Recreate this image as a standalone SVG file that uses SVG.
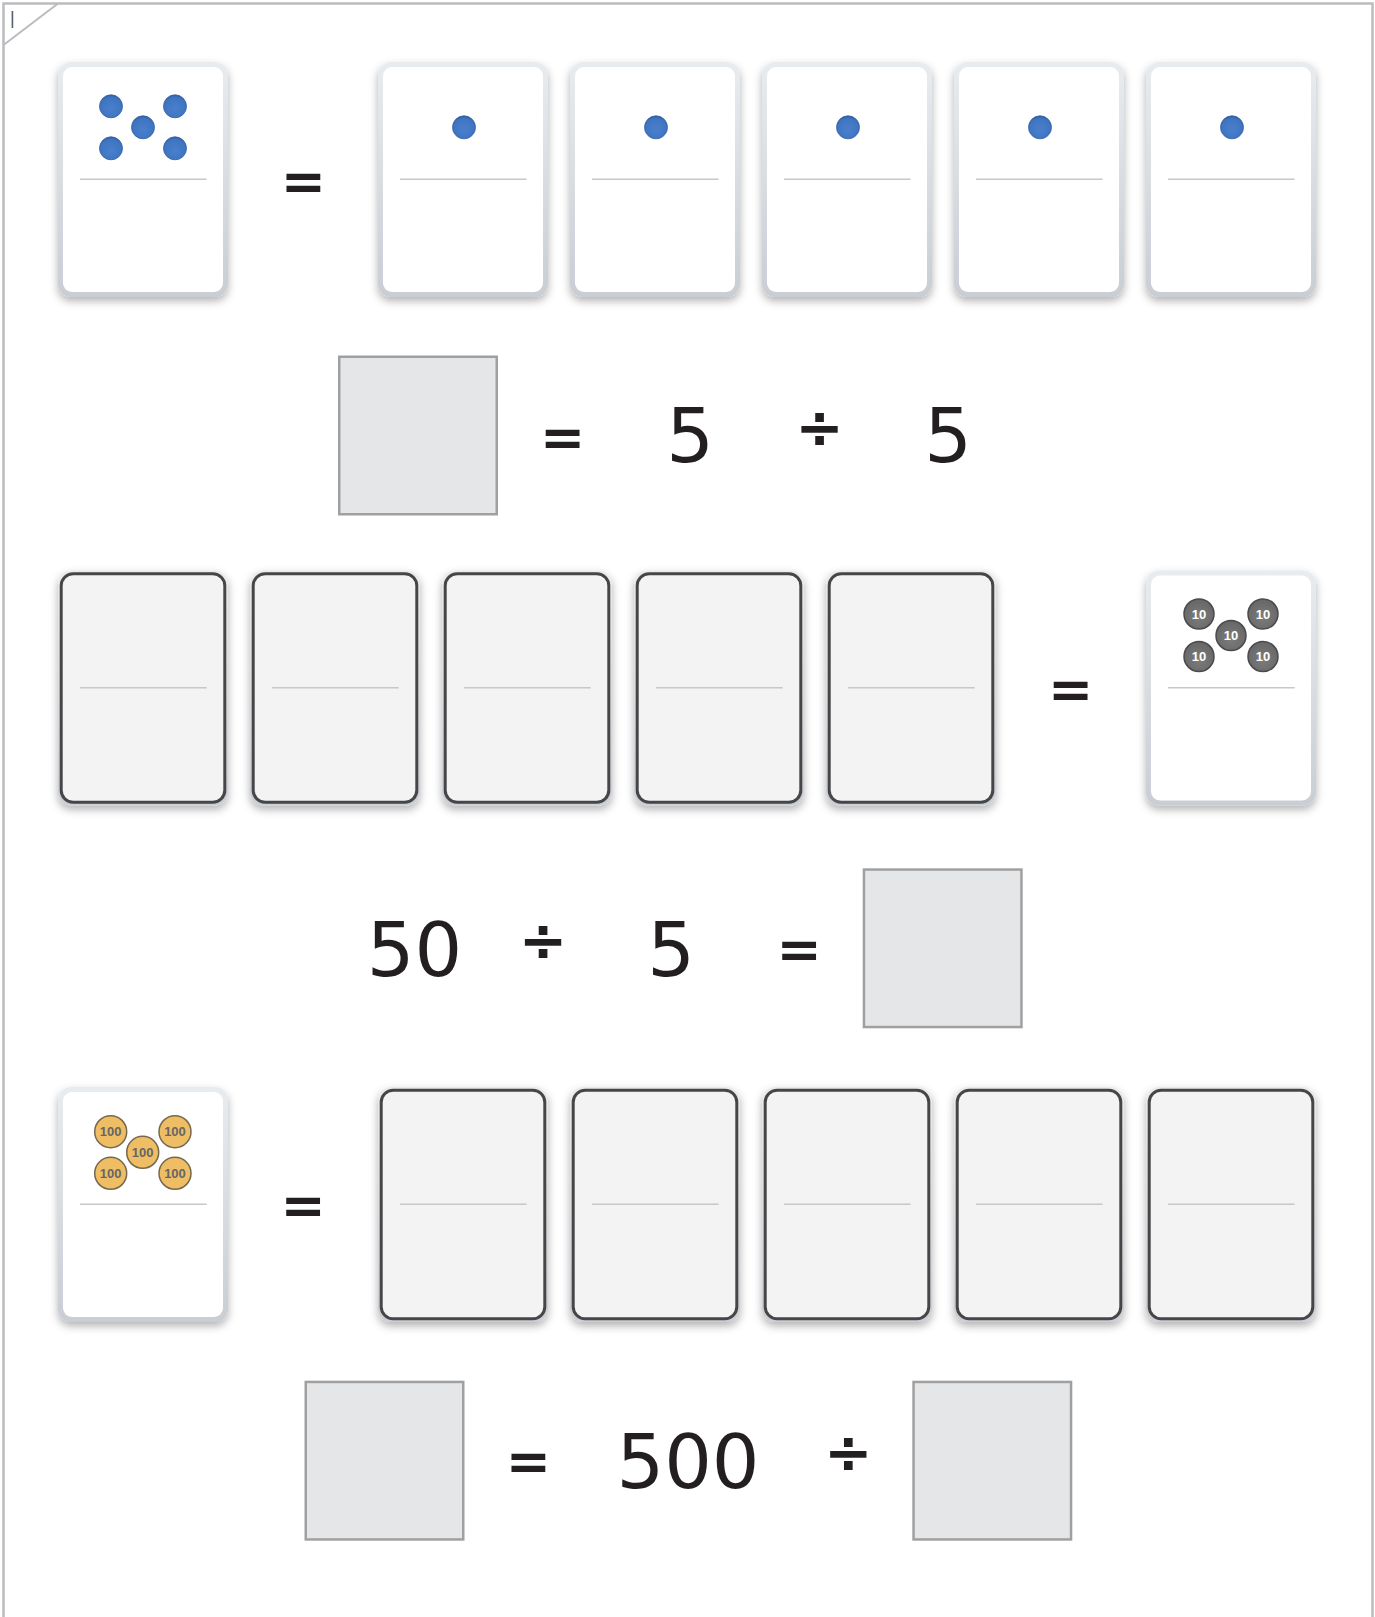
<svg xmlns="http://www.w3.org/2000/svg" width="1375" height="1617" viewBox="0 0 1375 1617">
<style>
.num{font-family:"DejaVu Sans",sans-serif;font-size:75px;fill:#231f20;text-anchor:middle}
.op{font-family:"DejaVu Sans",sans-serif;font-weight:bold;font-size:54px;fill:#231f20;text-anchor:middle}
.dv{font-family:"DejaVu Sans",sans-serif;font-weight:bold;font-size:58px;fill:#231f20;text-anchor:middle}
.rim{fill:url(#rimG)}
.face{fill:#ffffff}
.dface{fill:#f3f3f3;stroke:#464646;stroke-width:3}
.div{stroke:#c8c8c8;stroke-width:1.5}
.dot{fill:url(#dotG);stroke:#35619f;stroke-width:0.8}
.c10{fill:url(#g10);stroke:#4a4a4a;stroke-width:1.5}
.t10{font-family:"Liberation Sans",Arial,sans-serif;font-weight:bold;font-size:13px;fill:#ffffff;text-anchor:middle}
.c100{fill:#efbe64;stroke:#76674f;stroke-width:1.5}
.t100{font-family:"Liberation Sans",Arial,sans-serif;font-weight:bold;font-size:13px;fill:#666666;text-anchor:middle}
.box{fill:#e5e6e8;stroke:#a0a0a0;stroke-width:2.5}
</style>
<defs>
<linearGradient id="rimG" x1="0" y1="0" x2="0" y2="1">
<stop offset="0" stop-color="#e8ecef"/>
<stop offset="1" stop-color="#c9ced5"/>
</linearGradient>
<radialGradient id="dotG" cx="0.5" cy="0.6" r="0.6">
<stop offset="0" stop-color="#4a7fcc"/>
<stop offset="0.8" stop-color="#3f74c2"/>
<stop offset="1" stop-color="#2f5f9f"/>
</radialGradient>
<radialGradient id="g10" cx="0.5" cy="0.6" r="0.6">
<stop offset="0" stop-color="#7c7c7c"/>
<stop offset="1" stop-color="#666666"/>
</radialGradient>
<filter id="sh" x="-20%" y="-20%" width="140%" height="140%">
<feDropShadow dx="0" dy="4" stdDeviation="4" flood-color="#000" flood-opacity="0.3"/>
</filter>
<g id="lightCard">
<rect class="rim" x="0" y="0" width="170" height="235" rx="13" filter="url(#sh)"/>
<rect class="face" x="5" y="5" width="160" height="225" rx="9"/>
<line class="div" x1="22" y1="117.3" x2="148.7" y2="117.3"/>
</g>
<g id="darkCard">
<rect class="rim" x="0" y="0" width="170" height="235" rx="13" filter="url(#sh)"/>
<rect class="dface" x="3.2" y="3.2" width="163.6" height="228.6" rx="12"/>
<line class="div" x1="22" y1="117.3" x2="148.7" y2="117.3"/>
</g>
</defs>

<rect x="0" y="0" width="1375" height="1617" fill="#ffffff"/>
<g id="frame">
<rect x="3.5" y="3.5" width="1369" height="1700" fill="none" stroke="#bcbcc0" stroke-width="2.5"/>
<line x1="3.5" y1="45" x2="58" y2="3.5" stroke="#bcbcc0" stroke-width="2"/>
<text x="10" y="24" font-family="Liberation Sans, sans-serif" font-size="18" fill="#555555">|</text>
</g>

<!-- Row 1 -->
<g id="r1-card5dots" transform="translate(58,62)">
<use href="#lightCard"/>
<circle class="dot" cx="53" cy="44.3" r="11.5"/>
<circle class="dot" cx="117" cy="44.3" r="11.5"/>
<circle class="dot" cx="85" cy="65.3" r="11.5"/>
<circle class="dot" cx="53" cy="86.3" r="11.5"/>
<circle class="dot" cx="117" cy="86.3" r="11.5"/>
</g>
<g id="r1-eq"><text class="op" x="303.3" y="200">=</text></g>
<g id="r1-card1" transform="translate(378,62)"><use href="#lightCard"/><circle class="dot" cx="86" cy="65.3" r="11.5"/></g>
<g id="r1-card2" transform="translate(570,62)"><use href="#lightCard"/><circle class="dot" cx="86" cy="65.3" r="11.5"/></g>
<g id="r1-card3" transform="translate(762,62)"><use href="#lightCard"/><circle class="dot" cx="86" cy="65.3" r="11.5"/></g>
<g id="r1-card4" transform="translate(954,62)"><use href="#lightCard"/><circle class="dot" cx="86" cy="65.3" r="11.5"/></g>
<g id="r1-card5" transform="translate(1146,62)"><use href="#lightCard"/><circle class="dot" cx="86" cy="65.3" r="11.5"/></g>

<!-- Row 2 -->
<g id="r2-box"><rect class="box" x="339.25" y="356.75" width="157.5" height="157.5"/></g>
<g id="r2-eq"><text class="op" x="562.5" y="455.5">=</text></g>
<g id="r2-n1"><text class="num" x="690" y="462">5</text></g>
<g id="r2-div"><text class="dv" x="819.5" y="447.3">÷</text></g>
<g id="r2-n2"><text class="num" x="948" y="462">5</text></g>

<!-- Row 3 -->
<g id="r3-card1" transform="translate(58,570.5)"><use href="#darkCard"/></g>
<g id="r3-card2" transform="translate(250,570.5)"><use href="#darkCard"/></g>
<g id="r3-card3" transform="translate(442,570.5)"><use href="#darkCard"/></g>
<g id="r3-card4" transform="translate(634,570.5)"><use href="#darkCard"/></g>
<g id="r3-card5" transform="translate(826,570.5)"><use href="#darkCard"/></g>
<g id="r3-eq"><text class="op" x="1070.5" y="707.5">=</text></g>
<g id="r3-card10" transform="translate(1146,570.5)">
<use href="#lightCard"/>
<circle class="c10" cx="53" cy="43.5" r="15"/><text class="t10" x="53" y="48">10</text>
<circle class="c10" cx="117" cy="43.5" r="15"/><text class="t10" x="117" y="48">10</text>
<circle class="c10" cx="85" cy="65" r="15"/><text class="t10" x="85" y="69.5">10</text>
<circle class="c10" cx="53" cy="86" r="15"/><text class="t10" x="53" y="90.5">10</text>
<circle class="c10" cx="117" cy="86" r="15"/><text class="t10" x="117" y="90.5">10</text>
</g>

<!-- Row 4 -->
<g id="r4-n1"><text class="num" x="414.5" y="976">50</text></g>
<g id="r4-div"><text class="dv" x="543" y="959.8">÷</text></g>
<g id="r4-n2"><text class="num" x="671" y="976">5</text></g>
<g id="r4-eq"><text class="op" x="799" y="968">=</text></g>
<g id="r4-box"><rect class="box" x="863.95" y="869.55" width="157.5" height="157.5"/></g>

<!-- Row 5 -->
<g id="r5-card100" transform="translate(58,1087)">
<use href="#lightCard"/>
<circle class="c100" cx="52.7" cy="44.7" r="16"/><text class="t100" x="52.7" y="49.2">100</text>
<circle class="c100" cx="117" cy="44.7" r="16"/><text class="t100" x="117" y="49.2">100</text>
<circle class="c100" cx="84.7" cy="65.3" r="16"/><text class="t100" x="84.7" y="69.8">100</text>
<circle class="c100" cx="52.7" cy="86.3" r="16"/><text class="t100" x="52.7" y="90.8">100</text>
<circle class="c100" cx="117" cy="86.3" r="16"/><text class="t100" x="117" y="90.8">100</text>
</g>
<g id="r5-eq"><text class="op" x="303" y="1224">=</text></g>
<g id="r5-card1" transform="translate(378,1087)"><use href="#darkCard"/></g>
<g id="r5-card2" transform="translate(570,1087)"><use href="#darkCard"/></g>
<g id="r5-card3" transform="translate(762,1087)"><use href="#darkCard"/></g>
<g id="r5-card4" transform="translate(954,1087)"><use href="#darkCard"/></g>
<g id="r5-card5" transform="translate(1146,1087)"><use href="#darkCard"/></g>

<!-- Row 6 -->
<g id="r6-box1"><rect class="box" x="305.75" y="1381.95" width="157.5" height="157.5"/></g>
<g id="r6-eq"><text class="op" x="528.3" y="1480">=</text></g>
<g id="r6-n1"><text class="num" x="688" y="1487.5">500</text></g>
<g id="r6-div"><text class="dv" x="848.3" y="1472.3">÷</text></g>
<g id="r6-box2"><rect class="box" x="913.55" y="1381.95" width="157.5" height="157.5"/></g>
<g id="connectors"></g>
</svg>
